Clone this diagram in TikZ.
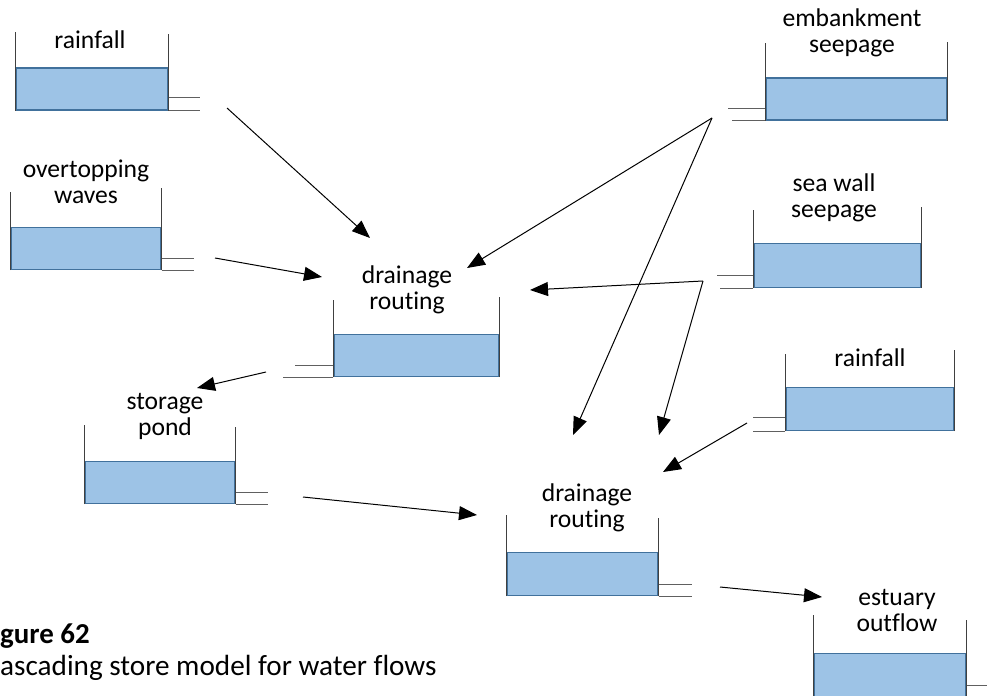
\documentclass[tikz,border=0pt]{standalone}
\usepackage{fontspec}
\setmainfont{Carlito}[Ligatures={NoCommon}]
\usetikzlibrary{arrows.meta}
\definecolor{waterblue}{HTML}{9DC3E6}
\definecolor{waterline}{HTML}{41719C}
\definecolor{wallgray}{HTML}{404040}
\definecolor{pipegray}{HTML}{606060}
\begin{document}
\begin{tikzpicture}[x=1bp,y=-1bp]
        \tikzset{water/.style = {draw=waterline,fill=waterblue,line width=1.5bp,inner sep=0,anchor=south west}}
        \tikzset{wall/.style = {draw=wallgray,line width=1bp}}
        \tikzset{pipe/.style = {draw=pipegray,line width=1bp}}
        \tikzset{storetext/.style = {align=center,inner sep=0,font=\fontsize{25.7}{26.1}\selectfont}}
        \tikzset{flow/.style = {-{Triangle[length=18bp,width=14bp]},line width=1bp}}
        \clip (0,0) rectangle (987,696);
        % stores on the left
        \node[water,minimum width=152bp,minimum height=42bp] (rainA) at (15,111) {};
        \draw[wall] (rainA.south west) -- ++(0,-79);
        \draw[wall] (rainA.south east) -- ++(0,-77);
        \draw[pipe] (rainA.south east) ++(0,-13) -- ++(31,0);
        \draw[pipe] (rainA.south east) -- ++(31,0);
        \node[storetext] (rainA-name) at (90,40) {rainfall};
        \node[water,minimum width=150bp,minimum height=42bp] (waves) at (10,270) {};
        \draw[wall] (waves.south west) -- ++(0,-78);
        \draw[wall] (waves.south east) -- ++(0,-82);
        \draw[pipe] (waves.south east) ++(0,-12) -- ++(32,0);
        \draw[pipe] (waves.south east) -- ++(32,0);
        \node[storetext] (waves-name) at (86,182) {overtopping\\waves};
        \node[water,minimum width=150bp,minimum height=42bp] (pond) at (84,504) {};
        \draw[wall] (pond.south west) -- ++(0,-79);
        \draw[wall] (pond.south east) -- ++(0,-77);
        \draw[pipe] (pond.south east) ++(0,-12) -- ++(32,0);
        \draw[pipe] (pond.south east) -- ++(32,0);
        \node[storetext] (pond-name) at (165,416) {storage\\pond};
        % drainage routing stores in the middle
        \node[water,minimum width=165bp,minimum height=42bp] (drainA) at (333,377) {};
        \draw[wall] (drainA.south west) -- ++(0,-77);
        \draw[wall] (drainA.south east) -- ++(0,-80);
        \draw[pipe] (drainA.south west) ++(0,-12) -- ++(-38,0);
        \draw[pipe] (drainA.south west) -- ++(-50,0);
        \node[storetext] (drainA-name) at (407,290) {drainage\\routing};
        \node[water,minimum width=151bp,minimum height=43bp] (drainB) at (506,596) {};
        \draw[wall] (drainB.south west) -- ++(0,-81);
        \draw[wall] (drainB.south east) -- ++(0,-78);
        \draw[pipe] (drainB.south east) ++(0,-12) -- ++(33,0);
        \draw[pipe] (drainB.south east) -- ++(33,0);
        \node[storetext] (drainB-name) at (587,508) {drainage\\routing};
        % stores on the right
        \node[water,minimum width=181bp,minimum height=42bp] (emb) at (765,121) {};
        \draw[wall] (emb.south west) -- ++(0,-78);
        \draw[wall] (emb.south east) -- ++(0,-79);
        \draw[pipe] (emb.south west) ++(0,-12) -- ++(-37,0);
        \draw[pipe] (emb.south west) -- ++(-33,0);
        \node[storetext] (emb-name) at (852,33) {embankment\\seepage};
        \node[water,minimum width=167bp,minimum height=44bp] (sea) at (753,288) {};
        \draw[wall] (sea.south west) -- ++(0,-78);
        \draw[wall] (sea.south east) -- ++(0,-81);
        \draw[pipe] (sea.south west) ++(0,-13) -- ++(-36,0);
        \draw[pipe] (sea.south west) -- ++(-33,0);
        \node[storetext] (sea-name) at (834,198) {sea wall\\seepage};
        \node[water,minimum width=168bp,minimum height=43bp] (rainB) at (785,431) {};
        \draw[wall] (rainB.south west) -- ++(0,-77);
        \draw[wall] (rainB.south east) -- ++(0,-81);
        \draw[pipe] (rainB.south west) ++(0,-14) -- ++(-32,0);
        \draw[pipe] (rainB.south west) -- ++(-32,0);
        \node[storetext] (rainB-name) at (870,358) {rainfall};
        \node[water,minimum width=152bp,minimum height=43bp] (est) at (813,697) {};
        \draw[wall] (est.south west) -- ++(0,-82);
        \draw[wall] (est.south east) -- ++(0,-77);
        \draw[pipe] (est.south east) ++(0,-12) -- ++(30,0);
        \draw[pipe] (est.south east) -- ++(30,0);
        \node[storetext] (est-name) at (897,610) {estuary\\outflow};
        % ends of the flows
        \coordinate (rainA-out) at (227,108);
        \coordinate (waves-out) at (215,258);
        \coordinate (emb-out) at (712,118);
        \coordinate (sea-out) at (703,281);
        \coordinate (drainA-out) at (266,372);
        \coordinate (pond-out) at (303,497);
        \coordinate (rainB-out) at (747,423);
        \coordinate (drainB-out) at (720,587);
        \coordinate (drainA-in1) at (370,238);
        \coordinate (drainA-in2) at (322,277);
        \coordinate (drainA-in3) at (467,268);
        \coordinate (drainA-in4) at (530,290);
        \coordinate (drainB-in1) at (573,435);
        \coordinate (drainB-in2) at (659,435);
        \coordinate (drainB-in3) at (477,515);
        \coordinate (drainB-in4) at (663,472);
        \coordinate (pond-in) at (197,388);
        \coordinate (est-in) at (822,597);
        % flows between the stores
        \draw[flow] (rainA-out) -- (drainA-in1);
        \draw[flow] (waves-out) -- (drainA-in2);
        \draw[flow] (emb-out) -- (drainA-in3);
        \draw[flow] (emb-out) -- (drainB-in1);
        \draw[flow] (sea-out) -- (drainA-in4);
        \draw[flow] (sea-out) -- (drainB-in2);
        \draw[flow] (drainA-out) -- (pond-in);
        \draw[flow] (pond-out) -- (drainB-in3);
        \draw[flow] (rainB-out) -- (drainB-in4);
        \draw[flow] (drainB-out) -- (est-in);
        % caption
        \node[anchor=west,inner sep=0,font=\fontsize{29}{32}\selectfont\bfseries] (fig-no) at (0,636) {gure 62};
        \node[anchor=west,inner sep=0,font=\fontsize{29.3}{32}\selectfont] (fig-title) at (0,668) {ascading store model for water flows};
\end{tikzpicture}
\end{document}
